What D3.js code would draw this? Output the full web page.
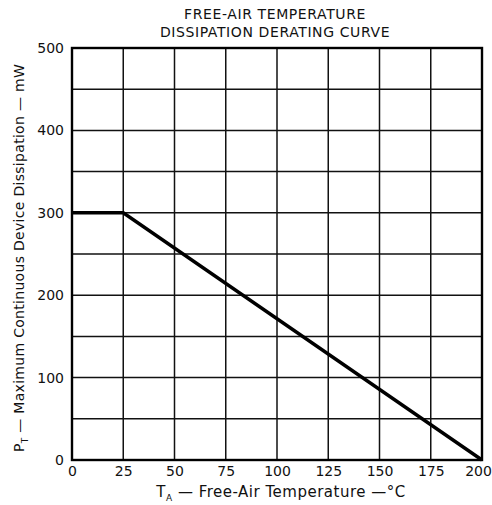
<!DOCTYPE html>
<html>
<head>
<meta charset="utf-8">
<script src="https://cdn.jsdelivr.net/npm/d3@7"></script>
<style>
  body { margin: 0; background: #fff; }
  text { font-family: "DejaVu Sans", sans-serif; fill: #111; }
</style>
</head>
<body>
<script>
'use strict'

// derating curve
var tempC = [0, 25, 200]
  , powerMW = [300, 300, 0]
  , xTicks = [0, 25, 50, 75, 100, 125, 150, 175, 200]
  , yGrid = [0, 50, 100, 150, 200, 250, 300, 350, 400, 450, 500]
  , yLabels = [0, 100, 200, 300, 400, 500]
  , titleLines = ['FREE-AIR TEMPERATURE', 'DISSIPATION DERATING CURVE']

var W = 492, H = 505
  , m = { top: 48, right: 10, bottom: 45, left: 72 }
  , svg = d3.select('body').append('svg').attr('width', W).attr('height', H)
  , x = d3.scaleLinear().domain([0, 200]).range([m.left, W - m.right])
  , y = d3.scaleLinear().domain([0, 500]).range([H - m.bottom, m.top])

// grid
svg.append('g').selectAll('line').data(xTicks).enter().append('line')
  .attr('x1', d => x(d)).attr('x2', d => x(d))
  .attr('y1', y(0)).attr('y2', y(500))
  .attr('stroke', '#111').attr('stroke-width', 1.5)
svg.append('g').selectAll('line').data(yGrid).enter().append('line')
  .attr('x1', x(0)).attr('x2', x(200))
  .attr('y1', d => y(d)).attr('y2', d => y(d))
  .attr('stroke', '#111').attr('stroke-width', 1.5)

// frame
svg.append('rect')
  .attr('x', x(0)).attr('y', y(500))
  .attr('width', x(200) - x(0)).attr('height', y(0) - y(500))
  .attr('fill', 'none').attr('stroke', '#000').attr('stroke-width', 2.4)

// axes (labels only)
var xAxis = svg.append('g').attr('transform', 'translate(0,' + y(0) + ')')
  .call(d3.axisBottom(x).tickValues(xTicks).tickSize(0).tickPadding(6))
var yAxis = svg.append('g').attr('transform', 'translate(' + x(0) + ',0)')
  .call(d3.axisLeft(y).tickValues(yLabels).tickSize(0).tickPadding(8))
;[xAxis, yAxis].forEach(function(a){
  a.select('.domain').remove()
  a.selectAll('text').style('font-size', '14px').style('font-family', '"DejaVu Sans", sans-serif').attr('fill', '#111')
})
// last label sits against the page edge, as in the original
xAxis.selectAll('text').filter(d => d === 200).attr('dx', -4)

// curve
svg.append('path')
  .datum(tempC.map((t, i) => [t, powerMW[i]]))
  .attr('d', d3.line().x(d => x(d[0])).y(d => y(d[1])))
  .attr('fill', 'none').attr('stroke', '#000').attr('stroke-width', 3.4)

// title
svg.append('g').selectAll('text').data(titleLines).enter().append('text')
  .attr('x', 275).attr('y', (d, i) => 19 + i * 18)
  .attr('text-anchor', 'middle').style('font-size', '14px')
  .style('letter-spacing', '0.6px')
  .text(d => d)

// x title
var xt = svg.append('text').attr('x', 281).attr('y', 497)
  .attr('text-anchor', 'middle').style('font-size', '15px')
  .style('letter-spacing', '0.5px')
xt.append('tspan').text('T')
xt.append('tspan').attr('dy', 4).style('font-size', '9px').text('A')
xt.append('tspan').attr('dy', -4).text('  — Free-Air Temperature —°C')

// y title
var yt = svg.append('text')
  .attr('transform', 'translate(24,' + 258 + ') rotate(-90)')
  .attr('text-anchor', 'middle').style('font-size', '14px')
  .style('letter-spacing', '0.3px')
yt.append('tspan').text('P')
yt.append('tspan').attr('dy', 4).style('font-size', '9px').text('T')
yt.append('tspan').attr('dy', -4).text(' — Maximum Continuous Device Dissipation — mW')
</script>
</body>
</html>
